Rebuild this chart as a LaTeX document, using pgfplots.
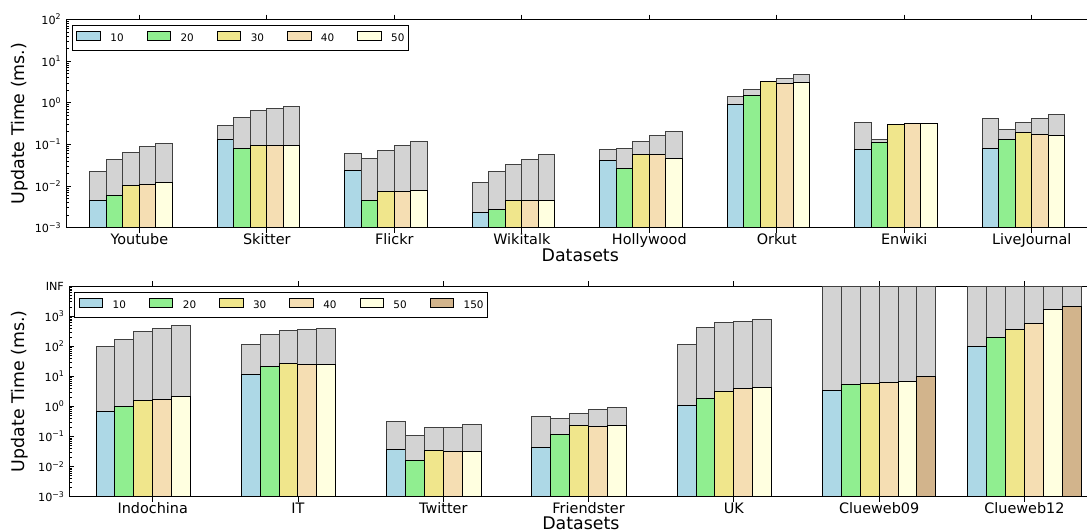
\documentclass[border=0pt]{standalone}
\usepackage{fontspec}
\setmainfont{DejaVu Sans}
\usepackage{pgfplots}
\pgfplotsset{compat=1.18}
\definecolor{c10}{HTML}{ADD8E6}
\definecolor{c20}{HTML}{90EE90}
\definecolor{c30}{HTML}{F0E68C}
\definecolor{c40}{HTML}{F5DEB3}
\definecolor{c50}{HTML}{FFFFE0}
\definecolor{c150}{HTML}{D2B48C}
\definecolor{cgr}{HTML}{D3D3D3}
\newcommand{\tp}[1]{10\raisebox{0.42em}{\fontsize{3.9}{4}\selectfont #1}}
\newcommand{\lgbox}[1]{\makebox[18.15pt][l]{#1}}
\newcommand{\labfont}{\fontsize{8.7}{10}\selectfont}
\pgfplotsset{
  every axis/.append style={
    scale only axis,
    tick align=inside, ytick pos=left, xtick pos=both,
    major tick length=2.5pt, minor tick length=1.4pt,
    axis line style={line width=0.5pt},
    every tick/.style={black, line width=0.4pt},
    yticklabel style={font=\fontsize{5.6}{6}\selectfont, inner xsep=2.5pt},
    xticklabel style={font=\fontsize{7.2}{8}\selectfont, inner ysep=0.2pt},
    legend columns=-1,
    legend cell align=left,
    legend style={anchor=north west, draw=black, line width=0.5pt,
      inner xsep=2.15pt, inner ysep=2.9pt, font=\fontsize{5.2}{5.5}\selectfont,
      nodes={inner sep=0pt}, column sep=0pt},
  },
  every axis plot/.append style={line width=0.5pt},
}
\pgfplotsset{mylegend/.style={legend image code/.code={\draw[##1] (0pt,-0.3pt) rectangle (11.7pt,3.9pt); \path[draw=none,fill=none] (0pt,0pt) -- (16.7pt,0pt);}}}
\begin{document}
\begin{tikzpicture}
% ---------------- top panel ----------------
\begin{axis}[
  ymode=log, log origin=infty, ybar, bar width=0.13,
  ylabel={Update Time (ms.)}, xlabel={Datasets},
  at={(33pt,151.65pt)}, anchor=south west,
  width=511.2pt, height=104.1pt,
  xmin=-0.575, xmax=7.444, ymin=1e-3, ymax=1e2,
  xtick={0,1,2,3,4,5,6,7},
  xticklabels={Youtube,Skitter,Flickr,Wikitalk,Hollywood,Orkut,Enwiki,LiveJournal},
  ytick={1e-3,1e-2,1e-1,1,10,100},
  yticklabels={\tp{−3},\tp{−2},\tp{−1},\tp{0},\tp{1},\tp{2}},
  minor ytick={0.002,0.003,0.004,0.005,0.006,0.007,0.008,0.009,0.02,0.03,0.04,0.05,0.06,0.07,0.08,0.09,0.2,0.3,0.4,0.5,0.6,0.7,0.8,0.9,2,3,4,5,6,7,8,9,20,30,40,50,60,70,80,90},
  every axis y label/.style={at={(axis description cs:-0.0457,0.5)}, rotate=90, anchor=center, font=\labfont},
  every axis x label/.style={at={(axis description cs:0.503,-0.131)}, anchor=center, font=\labfont},
  legend style={at={(axis description cs:0,1)}, xshift=2.85pt, yshift=-2.75pt},
]
% series 10
\addplot[fill=cgr, draw=black!75, bar shift=-0.325, forget plot] coordinates {(0,0.0227) (1,0.278) (2,0.060) (3,0.0121) (4,0.075) (5,1.41) (6,0.329) (7,0.41)};
\addplot[fill=c10, draw=black, bar shift=-0.325, mylegend] coordinates {(0,0.00446) (1,0.130) (2,0.024) (3,0.00234) (4,0.0417) (5,0.891) (6,0.075) (7,0.081)};
% series 20
\addplot[fill=cgr, draw=black!75, bar shift=-0.195, forget plot] coordinates {(0,0.0441) (1,0.451) (2,0.0466) (3,0.0227) (4,0.0793) (5,2.08) (6,0.133) (7,0.227)};
\addplot[fill=c20, draw=black, bar shift=-0.195, mylegend] coordinates {(0,0.00601) (1,0.081) (2,0.00456) (3,0.00277) (4,0.0268) (5,1.52) (6,0.109) (7,0.128)};
% series 30
\addplot[fill=cgr, draw=black!75, bar shift=-0.065, forget plot] coordinates {(0,0.0646) (1,0.664) (2,0.0698) (3,0.0334) (4,0.119) (5,3.18) (6,0.299) (7,0.342)};
\addplot[fill=c30, draw=black, bar shift=-0.065, mylegend] coordinates {(0,0.0106) (1,0.0956) (2,0.0075) (3,0.00456) (4,0.0569) (5,3.18) (6,0.299) (7,0.196)};
% series 40
\addplot[fill=cgr, draw=black!75, bar shift=0.065, forget plot] coordinates {(0,0.0871) (1,0.742) (2,0.092) (3,0.0441) (4,0.160) (5,3.90) (6,0.323) (7,0.426)};
\addplot[fill=c40, draw=black, bar shift=0.065, mylegend] coordinates {(0,0.0107) (1,0.094) (2,0.0075) (3,0.0045) (4,0.0569) (5,2.96) (6,0.323) (7,0.176)};
% series 50
\addplot[fill=cgr, draw=black!75, bar shift=0.195, forget plot] coordinates {(0,0.103) (1,0.828) (2,0.115) (3,0.056) (4,0.2075) (5,4.69) (6,0.316) (7,0.512)};
\addplot[fill=c50, draw=black, bar shift=0.195, mylegend] coordinates {(0,0.0119) (1,0.0956) (2,0.0079) (3,0.00456) (4,0.0456) (5,3.13) (6,0.316) (7,0.166)};
\legend{\lgbox{10},\lgbox{20},\lgbox{30},\lgbox{40},50}
\end{axis}
% ---------------- bottom panel ----------------
\begin{axis}[
  ymode=log, log origin=infty, ybar, bar width=0.13,
  ylabel={Update Time (ms.)}, xlabel={Datasets},
  at={(34.65pt,17.15pt)}, anchor=south west,
  width=509.55pt, height=105.3pt,
  xmin=-0.574, xmax=6.440, ymin=1e-3, ymax=1e4,
  xtick={0,1,2,3,4,5,6},
  xticklabels={Indochina,IT,Twitter,Friendster,UK,Clueweb09,Clueweb12},
  ytick={1e-3,1e-2,1e-1,1,10,100,1000,10000},
  yticklabels={\tp{−3},\tp{−2},\tp{−1},\tp{0},\tp{1},\tp{2},\tp{3},INF},
  minor ytick={0.002,0.003,0.004,0.005,0.006,0.007,0.008,0.009,0.02,0.03,0.04,0.05,0.06,0.07,0.08,0.09,0.2,0.3,0.4,0.5,0.6,0.7,0.8,0.9,2,3,4,5,6,7,8,9,20,30,40,50,60,70,80,90,200,300,400,500,600,700,800,900,2000,3000,4000,5000,6000,7000,8000,9000},
  every axis y label/.style={at={(axis description cs:-0.0487,0.5)}, rotate=90, anchor=center, font=\labfont},
  every axis x label/.style={at={(axis description cs:0.502,-0.127)}, anchor=center, font=\labfont},
  legend style={at={(axis description cs:0,1)}, xshift=2.35pt, yshift=-2.85pt},
]
% series 10
\addplot[fill=cgr, draw=black!75, bar shift=-0.325, forget plot] coordinates {(0,97.5) (1,110.7) (2,0.324) (3,0.476) (4,116.6) (5,10000) (6,10000)};
\addplot[fill=c10, draw=black, bar shift=-0.325, mylegend] coordinates {(0,0.664) (1,11.96) (2,0.0378) (3,0.0441) (4,1.08) (5,3.50) (6,95)};
% series 20
\addplot[fill=cgr, draw=black!75, bar shift=-0.195, forget plot] coordinates {(0,171) (1,245) (2,0.108) (3,0.398) (4,408) (5,10000) (6,10000)};
\addplot[fill=c20, draw=black, bar shift=-0.195, mylegend] coordinates {(0,1.025) (1,20.5) (2,0.0158) (3,0.1196) (4,1.80) (5,5.55) (6,194)};
% series 30
\addplot[fill=cgr, draw=black!75, bar shift=-0.065, forget plot] coordinates {(0,300) (1,324) (2,0.1995) (3,0.599) (4,599) (5,10000) (6,10000)};
\addplot[fill=c30, draw=black, bar shift=-0.065, mylegend] coordinates {(0,1.585) (1,25.8) (2,0.0341) (3,0.232) (4,3.16) (5,6.0) (6,350)};
% series 40
\addplot[fill=cgr, draw=black!75, bar shift=0.065, forget plot] coordinates {(0,398) (1,350) (2,0.205) (3,0.815) (4,681) (5,10000) (6,10000)};
\addplot[fill=c40, draw=black, bar shift=0.065, mylegend] coordinates {(0,1.755) (1,23.9) (2,0.0308) (3,0.210) (4,3.88) (5,6.47) (6,570)};
% series 50
\addplot[fill=cgr, draw=black!75, bar shift=0.195, forget plot] coordinates {(0,501) (1,388) (2,0.251) (3,0.950) (4,755) (5,10000) (6,10000)};
\addplot[fill=c50, draw=black, bar shift=0.195, mylegend] coordinates {(0,2.21) (1,24.5) (2,0.0316) (3,0.232) (4,4.41) (5,6.99) (6,1626)};
% series 150
\addplot[fill=cgr, draw=black!75, bar shift=0.325, forget plot] coordinates {(5,10000) (6,10000)};
\addplot[fill=c150, draw=black, bar shift=0.325, mylegend] coordinates {(5,10.0) (6,2047)};
\legend{\lgbox{10},\lgbox{20},\lgbox{30},\lgbox{40},\lgbox{50},150}
\end{axis}
\pgfresetboundingbox
\path[use as bounding box] (0pt,0pt) rectangle (543.5pt,265.5pt);
\end{tikzpicture}
\end{document}
